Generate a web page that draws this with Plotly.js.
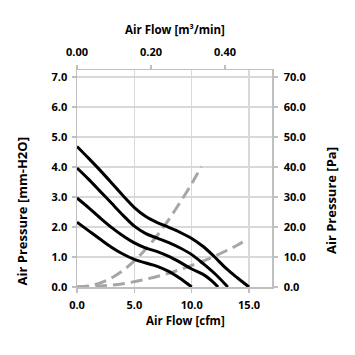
<!DOCTYPE html>
<html>
<head>
<meta charset="utf-8">
<script src="https://cdn.plot.ly/plotly-3.0.1.min.js"></script>
<style>html,body{margin:0;padding:0;background:#fff;}#chart{width:355px;height:355px;}</style>
</head>
<body>
<div id="chart"></div>
<script>
// Fan P-Q curves (cfm vs mm-H2O)
var curve1X = [0, 1, 2, 3, 4, 5, 6, 7, 8, 9, 10, 11, 12, 13, 14, 15];
var curve1Y = [4.69, 4.3, 3.9, 3.48, 3.05, 2.65, 2.35, 2.15, 1.99, 1.82, 1.62, 1.35, 1.0, 0.62, 0.3, 0.0];
var curve2X = [0, 1, 2, 3, 4, 5, 6, 7, 8, 9, 10, 11, 12, 13.15];
var curve2Y = [3.97, 3.6, 3.2, 2.8, 2.4, 2.03, 1.78, 1.63, 1.48, 1.3, 1.08, 0.78, 0.45, 0.0];
var curve3X = [0, 1, 2, 3, 4, 5, 6, 7, 8, 9, 10, 11, 11.7, 12.3];
var curve3Y = [2.97, 2.65, 2.31, 1.99, 1.71, 1.47, 1.3, 1.18, 1.02, 0.82, 0.6, 0.42, 0.22, 0.0];
var curve4X = [0, 1, 2, 3, 4, 5, 6, 7, 8, 9, 10];
var curve4Y = [2.16, 1.88, 1.6, 1.33, 1.1, 0.92, 0.8, 0.69, 0.52, 0.28, 0.0];
// System impedance curves
var imp1X = [0, 1, 2, 3, 4, 5, 6, 7, 8, 9, 10, 10.85];
var imp1Y = [0, 0.03, 0.13, 0.3, 0.55, 0.87, 1.27, 1.72, 2.25, 2.83, 3.45, 4.02];
var imp2X = [0, 2, 4, 6, 8, 10, 12, 14, 14.77];
var imp2Y = [0, 0.03, 0.11, 0.26, 0.46, 0.72, 1.03, 1.40, 1.58];
// Axis ranges / labels
var cfmRange = [0, 17];
var m3Range = [0, 0.527];
var mmRange = [0, 7.24];
var paRange = [0, 72.4];
var xTitle = "Air Flow [cfm]";
var x2Title = "Air Flow [m\u00b3/min]";
var yTitle = "Air Pressure [mm-H2O]";
var y2Title = "Air Pressure [Pa]";

var FONT = "'Open Sans', Lato, sans-serif";
var black = {color: "#000000", width: 3, shape: "spline", smoothing: 1};
var grey = {color: "#a6a6a6", width: 3, dash: "12px,6px", shape: "spline", smoothing: 1};

var traces = [
  {x: imp1X, y: imp1Y, mode: "lines", line: grey, hoverinfo: "skip"},
  {x: imp2X, y: imp2Y, mode: "lines", line: grey, hoverinfo: "skip"},
  {x: curve1X, y: curve1Y, mode: "lines", line: black},
  {x: curve2X, y: curve2Y, mode: "lines", line: black},
  {x: curve3X, y: curve3Y, mode: "lines", line: black},
  {x: curve4X, y: curve4Y, mode: "lines", line: black},
  {x: [], y: [], xaxis: "x2", yaxis: "y2", mode: "lines", hoverinfo: "skip"}
];

var tickFont = {family: FONT, size: 11, color: "#000", weight: "bold"};
var xTitleFont = {family: FONT, size: 11.5, color: "#000", weight: "bold"};
var yTitleFont = {family: FONT, size: 13, color: "#000", weight: "bold"};

var L = 77.3, R = 272.3, T = 70, B = 287.3;
var W = R - L, H = B - T;

var axisBase = {
  showline: true, linecolor: "#bfbfbf", linewidth: 1.5,
  ticks: "outside", ticklen: 4, tickcolor: "#bfbfbf", tickwidth: 1.5,
  tickfont: tickFont, zeroline: false, fixedrange: true
};

var layout = {
  width: 355, height: 355,
  margin: {l: L, r: 355 - R, t: T, b: 355 - B, pad: 0},
  paper_bgcolor: "#fff", plot_bgcolor: "#fff",
  showlegend: false,
  font: {family: FONT},
  xaxis: Object.assign({}, axisBase, {
    range: cfmRange, dtick: 5, tick0: 0, tickformat: ".1f",
    showgrid: true, gridcolor: "#d9d9d9", gridwidth: 1.5, ticklabelstandoff: 3
  }),
  xaxis2: Object.assign({}, axisBase, {
    overlaying: "x", side: "top", range: m3Range, dtick: 0.2, tick0: 0, tickformat: ".2f",
    showgrid: false, ticklabelstandoff: 4
  }),
  yaxis: Object.assign({}, axisBase, {
    range: mmRange, dtick: 1, tick0: 0, tickformat: ".1f",
    showgrid: true, gridcolor: "#d9d9d9", gridwidth: 1.5, ticklabelstandoff: 2
  }),
  yaxis2: Object.assign({}, axisBase, {
    overlaying: "y", side: "right", range: paRange, dtick: 10, tick0: 0, tickformat: ".1f",
    showgrid: false, ticklabelstandoff: 4
  }),
  annotations: [
    {text: xTitle, xref: "paper", yref: "paper", x: (186 - L) / W, y: -(321 - B) / H,
     xanchor: "center", yanchor: "middle", showarrow: false, font: xTitleFont},
    {text: x2Title, xref: "paper", yref: "paper", x: (175 - L) / W, y: 1 + (T - 29) / H,
     xanchor: "center", yanchor: "middle", showarrow: false, font: xTitleFont},
    {text: yTitle, xref: "paper", yref: "paper", x: -(L - 22) / W, y: (B - 212) / H,
     xanchor: "center", yanchor: "middle", textangle: -90, showarrow: false, font: yTitleFont},
    {text: y2Title, xref: "paper", yref: "paper", x: 1 + (331.5 - R) / W, y: (B - 201) / H,
     xanchor: "center", yanchor: "middle", textangle: -90, showarrow: false, font: yTitleFont}
  ]
};

Plotly.newPlot("chart", traces, layout, {displayModeBar: false, staticPlot: true});
</script>
</body>
</html>
